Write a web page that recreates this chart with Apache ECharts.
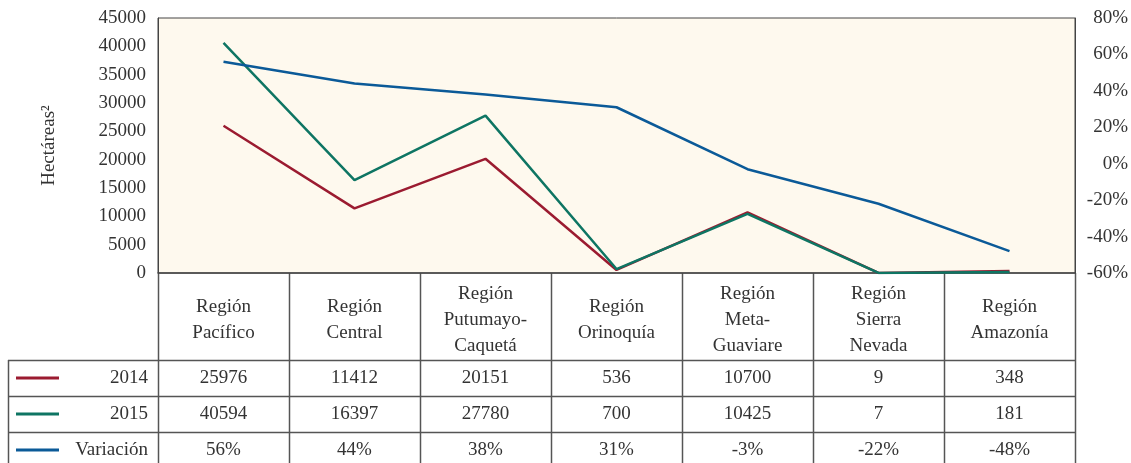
<!DOCTYPE html>
<html><head><meta charset="utf-8">
<script src="https://cdn.jsdelivr.net/npm/echarts@6/dist/echarts.min.js"></script>
<style>html,body{margin:0;padding:0;background:#fff}#c{width:1131px;height:463px}</style>
</head><body><div id="c"></div>
<script>
const categories = ['Región\nPacífico','Región\nCentral','Región\nPutumayo-\nCaquetá','Región\nOrinoquía','Región\nMeta-\nGuaviare','Región\nSierra\nNevada','Región\nAmazonía'];
const values2014 = [25976, 11412, 20151, 536, 10700, 9, 348];
const values2015 = [40594, 16397, 27780, 700, 10425, 7, 181];
const variacion = [56, 44, 38, 31, -3, -22, -48];
const seriesNames = ['2014', '2015', 'Variación'];
const colors = ['#9B1B30', '#0E7563', '#0B5A98'];

const FONT = '"Liberation Serif", "DejaVu Serif", serif';
const TXT = '#333';
const LINE = '#555';
const FS = 19;

const chart = echarts.init(document.getElementById('c'));
const option = {
  animation: false,
  textStyle: { fontFamily: FONT },
  grid: { left: 158, top: 18, width: 917, height: 255, show: true, backgroundColor: '#FEF9EE', borderColor: '#444', borderWidth: 1 },
  xAxis: {
    type: 'category', data: categories, boundaryGap: true,
    axisLine: { show: true, lineStyle: { color: '#444', width: 1.5 } },
    axisTick: { show: false },
    axisLabel: { interval: 0, fontFamily: FONT, fontSize: FS, color: TXT, lineHeight: 26, verticalAlign: 'middle', margin: 47 }
  },
  yAxis: [
    { type: 'value', min: 0, max: 45000, interval: 5000, name: 'Hectáreas²', nameLocation: 'middle', nameGap: 99, nameRotate: 90,
      nameTextStyle: { fontFamily: FONT, fontSize: FS, color: TXT },
      axisLine: { show: true, lineStyle: { color: '#444' } }, axisTick: { show: false }, splitLine: { show: false },
      axisLabel: { fontFamily: FONT, fontSize: FS, color: TXT, margin: 12, formatter: v => String(v) } },
    { type: 'value', min: -60, max: 80, interval: 20, position: 'right',
      axisLine: { show: true, lineStyle: { color: '#444' } }, axisTick: { show: false }, splitLine: { show: false },
      axisLabel: { fontFamily: FONT, fontSize: FS, color: TXT, formatter: '{value}%', align: 'right', margin: 53 } }
  ],
  series: [
    { name: seriesNames[0], type: 'line', data: values2014, yAxisIndex: 0, symbol: 'none', lineStyle: { color: colors[0], width: 2.5 }, itemStyle: { color: colors[0] } },
    { name: seriesNames[1], type: 'line', data: values2015, yAxisIndex: 0, symbol: 'none', lineStyle: { color: colors[1], width: 2.5 }, itemStyle: { color: colors[1] } },
    { name: seriesNames[2], type: 'line', data: variacion, yAxisIndex: 1, symbol: 'none', lineStyle: { color: colors[2], width: 2.5 }, itemStyle: { color: colors[2] } }
  ]
};
chart.setOption(option);

// Build the data table below the axis, aligned with category bands
const centers = categories.map((c, i) => chart.convertToPixel({ xAxisIndex: 0 }, i));
const band = centers[1] - centers[0];
const left = centers[0] - band / 2;
const right = centers[centers.length - 1] + band / 2;
const axisY = chart.convertToPixel({ yAxisIndex: 0 }, 0);
const rowTops = [360, 396, 432, 468];
const tableLeft = 8;
const els = [];
const ln = (x1, y1, x2, y2) => els.push({ type: 'line', silent: true, shape: { x1, y1, x2, y2 }, style: { stroke: LINE, lineWidth: 1.5 } });
for (let i = 0; i <= categories.length; i++) {
  const x = Math.round(left + band * i) + 0.5;
  ln(x, axisY, x, 470);
}
ln(tableLeft + 0.5, rowTops[0], tableLeft + 0.5, 470);
for (let r = 0; r < 3; r++) ln(tableLeft, rowTops[r] + 0.5, right, rowTops[r] + 0.5);
const rows = [values2014.map(String), values2015.map(String), variacion.map(v => v + '%')];
rows.forEach((vals, r) => {
  const cy = (rowTops[r] + rowTops[r + 1]) / 2;
  els.push({ type: 'line', silent: true, shape: { x1: 16, y1: cy, x2: 59, y2: cy }, style: { stroke: colors[r], lineWidth: 3 } });
  els.push({ type: 'text', silent: true, style: { x: 148, y: cy, text: seriesNames[r], align: 'right', verticalAlign: 'middle', font: FS + 'px ' + FONT, fill: TXT } });
  vals.forEach((v, i) => {
    els.push({ type: 'text', silent: true, style: { x: centers[i], y: cy, text: v, align: 'center', verticalAlign: 'middle', font: FS + 'px ' + FONT, fill: TXT } });
  });
});
chart.setOption({ graphic: { elements: els } });
</script>
</body></html>
